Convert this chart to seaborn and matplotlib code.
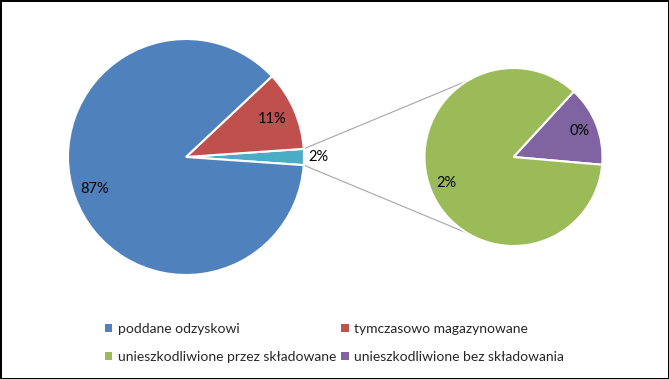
import matplotlib
matplotlib.use("Agg")
import matplotlib.pyplot as plt
from matplotlib.patches import Patch
import numpy as np
import seaborn as sns

# shares of waste treatment (%)
categories = ["poddane odzyskowi", "tymczasowo magazynowane",
              "unieszkodliwione przez składowane", "unieszkodliwione bez składowania"]
values = [86.9, 10.9, 1.88, 0.32]
colors = ["#4F81BD", "#C0504D", "#9BBB59", "#8064A2"]
other_color = "#4BACC6"

sns.set_theme(style="white")
plt.rcParams["font.family"] = ["Lato", "DejaVu Sans"]

W, H = 669, 379
fig = plt.figure(figsize=(W / 100, H / 100), dpi=100)
fig.patch.set_edgecolor("black")
fig.patch.set_linewidth(2)
ax = fig.add_axes([0, 0, 1, 1])

c1, r1 = (186, H - 157), 118
c2, r2 = (513.5, H - 157), 89

other = values[2] + values[3]
main_vals = [other, values[1], values[0]]
main_cols = [other_color, colors[1], colors[0]]
wedges1, _ = ax.pie(main_vals, colors=main_cols, center=c1, radius=r1,
                    startangle=-other / 100 * 360 / 2, counterclock=True,
                    wedgeprops=dict(edgecolor="white", linewidth=1.5), frame=True)

sec_vals = [values[3], values[2]]
sec_cols = [colors[3], colors[2]]
wedges2, _ = ax.pie(sec_vals, colors=sec_cols, center=c2, radius=r2,
                    startangle=-5, counterclock=True,
                    wedgeprops=dict(edgecolor="white", linewidth=1.5), frame=True)
ax.set_xlim(0, W)
ax.set_ylim(0, H)
ax.set_aspect("equal")
ax.axis("off")


def label(w, c, r, dist, txt):
    th = np.deg2rad((w.theta1 + w.theta2) / 2)
    ax.text(c[0] + dist * r * np.cos(th), c[1] + dist * r * np.sin(th), txt,
            ha="center", va="center", fontsize=10.5, color="black")


label(wedges1[0], c1, r1, 1.12, f"{main_vals[0]:.0f}%")
label(wedges1[1], c1, r1, 0.8, f"{main_vals[1]:.0f}%")
label(wedges1[2], c1, r1, 0.82, f"{main_vals[2]:.0f}%")
label(wedges2[0], c2, r2, 0.8, f"{sec_vals[0]:.0f}%")
label(wedges2[1], c2, r2, 0.81, f"{sec_vals[1]:.0f}%")

# connector lines between the "other" slice and the second pie
w = wedges1[0]
for a1, a2 in [(w.theta2, 121), (w.theta1, -121)]:
    p1 = (c1[0] + r1 * np.cos(np.deg2rad(a1)), c1[1] + r1 * np.sin(np.deg2rad(a1)))
    p2 = (c2[0] + r2 * np.cos(np.deg2rad(a2)), c2[1] + r2 * np.sin(np.deg2rad(a2)))
    ax.plot([p1[0], p2[0]], [p1[1], p2[1]], color="#A6A6A6", lw=0.8, zorder=0)

# legend is filled column-wise, so reorder to get row-wise layout
order = [0, 2, 1, 3]
handles = [Patch(facecolor=colors[i], edgecolor="none") for i in order]
fig.legend(handles, [categories[i] for i in order], ncol=2, loc="center",
           bbox_to_anchor=(0.5, 1 - 343 / H), frameon=False, fontsize=10,
           handlelength=0.55, handleheight=0.55, handletextpad=0.4,
           columnspacing=0.35, labelspacing=1.15)

fig.savefig("out.png", dpi=100)
